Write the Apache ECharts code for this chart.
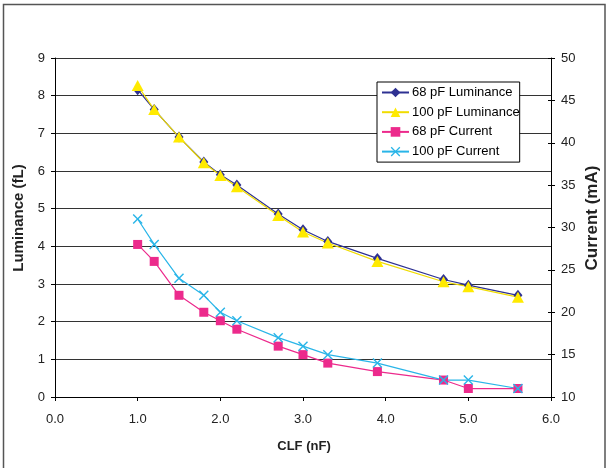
<!DOCTYPE html>
<html>
<head>
<meta charset="utf-8">
<script src="https://cdn.jsdelivr.net/npm/echarts@6/dist/echarts.min.js"></script>
<style>
html,body{margin:0;padding:0;background:#fff;}
#chart{width:608px;height:468px;}
</style>
</head>
<body>
<div id="chart"></div>
<script>
// CLF capacitance (nF)
var clf = [1.0, 1.2, 1.5, 1.8, 2.0, 2.2, 2.7, 3.0, 3.3, 3.9, 4.7, 5.0, 5.6];
// Luminance (fL)
var lum68 = [8.16, 7.63, 6.90, 6.24, 5.90, 5.63, 4.86, 4.44, 4.13, 3.68, 3.12, 2.97, 2.70];
var lum100 = [8.27, 7.63, 6.90, 6.22, 5.88, 5.58, 4.82, 4.38, 4.09, 3.60, 3.06, 2.93, 2.65];
// Current (mA)
var cur68 = [28, 26, 22, 20, 19, 18, 16, 15, 14, 13, 12, 11, 11];
var cur100 = [31, 28, 24, 22, 20, 19, 17, 16, 15, 14, 12, 12, 11];
var seriesNames = ['68 pF Luminance', '100 pF Luminance', '68 pF Current', '100 pF Current'];

function pairs(xs, ys) { return xs.map(function (x, i) { return [x, ys[i]]; }); }

var FONT = 'Liberation Sans, Arial, sans-serif';
var crossPath = 'path://M1,0 L5,4 L9,0 L10,1 L6,5 L10,9 L9,10 L5,6 L1,10 L0,9 L4,5 L0,1 Z';

var chart = echarts.init(document.getElementById('chart'), null, {renderer: 'canvas'});
chart.setOption({
  animation: false,
  backgroundColor: '#fff',
  textStyle: {fontFamily: FONT},
  grid: {left: 55, top: 58, right: 57, bottom: 71, containLabel: false},
  legend: {
    orient: 'vertical',
    left: 377, top: 82,
    padding: [4, 0, 4, 4],
    itemWidth: 27, itemHeight: 12, itemGap: 6.7,
    backgroundColor: '#fff',
    borderColor: '#000', borderWidth: 1,
    textStyle: {fontFamily: FONT, fontSize: 13, color: '#000', padding: [0, 0, 0, -2]},
    data: seriesNames
  },
  xAxis: {
    type: 'value', min: 0, max: 6, interval: 1,
    axisLine: {lineStyle: {color: '#000', width: 1}},
    axisTick: {length: 4, lineStyle: {color: '#000'}},
    axisLabel: {fontSize: 13, color: '#222', margin: 16, formatter: function (v) { return v.toFixed(1); }},
    splitLine: {show: false}
  },
  yAxis: [
    {
      type: 'value', position: 'left', min: 0, max: 9, interval: 1,
      axisLine: {show: true, lineStyle: {color: '#000'}},
      axisTick: {show: true, length: 4, lineStyle: {color: '#000'}},
      axisLabel: {fontSize: 13, color: '#222', margin: 10},
      splitLine: {show: true, lineStyle: {color: '#333', width: 1}}
    },
    {
      type: 'value', position: 'right', min: 10, max: 50, interval: 5,
      axisLine: {show: true, lineStyle: {color: '#000'}},
      axisTick: {show: true, length: 4, lineStyle: {color: '#000'}},
      axisLabel: {fontSize: 13, color: '#222', margin: 10},
      splitLine: {show: false}
    },
    {
      type: 'value', position: 'right', min: 10, max: 50, interval: 5,
      axisLine: {show: false},
      axisTick: {show: true, inside: true, length: 3, lineStyle: {color: '#000'}},
      axisLabel: {show: false},
      splitLine: {show: false}
    }
  ],
  series: [
    {
      name: seriesNames[0], type: 'line', yAxisIndex: 0,
      data: pairs(clf, lum68),
      symbol: 'diamond', symbolSize: [9, 11],
      color: '#2E3192',
      lineStyle: {width: 1.2, color: '#2E3192'},
      itemStyle: {color: '#2E3192'},
      emphasis: {disabled: true}
    },
    {
      name: seriesNames[1], type: 'line', yAxisIndex: 0,
      data: pairs(clf, lum100),
      symbol: 'triangle', symbolSize: [12, 11],
      color: '#FFEA00',
      lineStyle: {width: 1.2, color: '#F0DC00'},
      itemStyle: {color: '#FFEA00'},
      emphasis: {disabled: true}
    },
    {
      name: seriesNames[2], type: 'line', yAxisIndex: 1,
      data: pairs(clf, cur68),
      symbol: 'rect', symbolSize: 9,
      color: '#EC2A8C',
      lineStyle: {width: 1.2, color: '#EC2A8C'},
      itemStyle: {color: '#EC2A8C'},
      emphasis: {disabled: true}
    },
    {
      name: seriesNames[3], type: 'line', yAxisIndex: 1,
      data: pairs(clf, cur100),
      symbol: crossPath, symbolSize: 10,
      color: '#29B5E8',
      lineStyle: {width: 1.2, color: '#29B5E8'},
      itemStyle: {color: '#29B5E8'},
      emphasis: {disabled: true}
    }
  ],
  graphic: [
    {
      type: 'rect', silent: true, z: -1,
      shape: {x: 3.5, y: 4.5, width: 601.5, height: 480},
      style: {fill: 'none', stroke: '#555', lineWidth: 1.5}
    },
    {
      type: 'text', silent: true, x: 19, y: 218, rotation: Math.PI / 2,
      style: {text: 'Luminance (fL)', font: 'bold 15px ' + FONT, fill: '#222', align: 'center', verticalAlign: 'middle'}
    },
    {
      type: 'text', silent: true, x: 592, y: 218, rotation: Math.PI / 2,
      style: {text: 'Current (mA)', font: 'bold 17px ' + FONT, fill: '#222', align: 'center', verticalAlign: 'middle'}
    },
    {
      type: 'text', silent: true, x: 304, y: 446,
      style: {text: 'CLF (nF)', font: 'bold 13px ' + FONT, fill: '#222', align: 'center', verticalAlign: 'middle'}
    }
  ]
});
</script>
</body>
</html>
